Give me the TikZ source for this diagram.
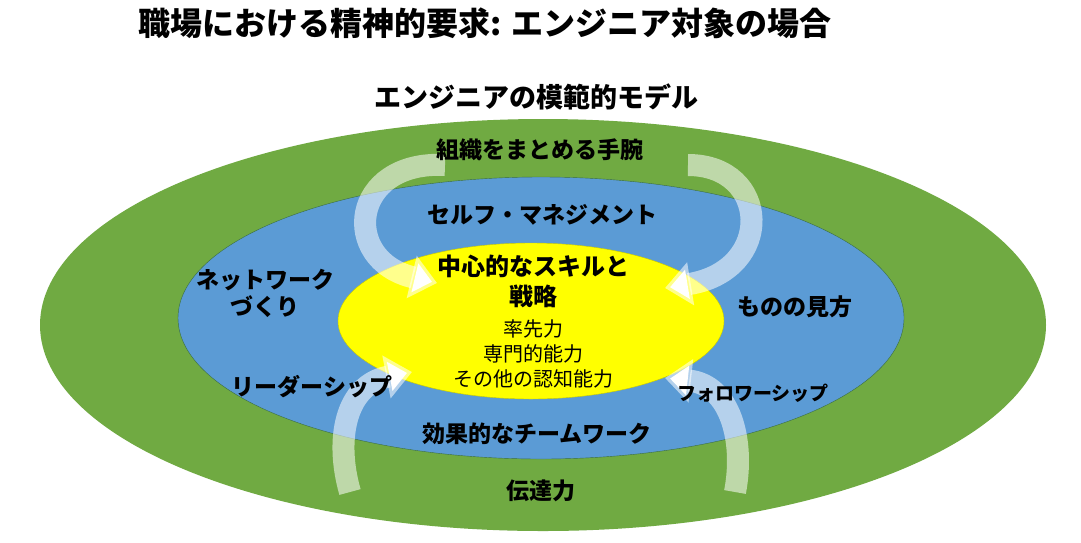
\documentclass[tikz,border=0pt]{standalone}
\usepackage{fontspec}
\setmainfont{Noto Sans CJK JP}
\usetikzlibrary{arrows.meta}
\begin{document}
\begin{tikzpicture}[x=1pt,y=-1pt,
 lbl/.style={font=\bfseries\fontsize{23}{27}\selectfont, align=center},
 flow/.style={draw=white, draw opacity=0.55, line width=22pt, -{Triangle[width=42pt,length=26pt]}}]
\useasboundingbox (0,0) rectangle (1081,542);
\fill[white] (0,0) rectangle (1081,542);
\fill[fill={rgb,255:red,112;green,170;blue,66}] (543,325) ellipse [x radius=503, y radius=206];
\draw[fill={rgb,255:red,91;green,155;blue,213}, draw={rgb,255:red,60;green,110;blue,60}] (541,318) ellipse [x radius=363, y radius=141];
\draw[fill={rgb,255:red,255;green,255;blue,0}, draw={rgb,255:red,200;green,200;blue,0}] (531,321) ellipse [x radius=193, y radius=78];
\node[font=\bfseries\fontsize{32}{36}\selectfont] (title) at (485,23) {職場における精神的要求: エンジニア対象の場合};
\node[font=\bfseries\fontsize{27}{30}\selectfont] (sub) at (536,97) {エンジニアの模範的モデル};
\coordinate (a1) at (445,165); \coordinate (a2) at (688,165);
\coordinate (b1) at (350,492); \coordinate (b2) at (735,492);
\coordinate (t1) at (437,283); \coordinate (t2) at (665,288);
\coordinate (t3) at (412,372); \coordinate (t4) at (665,378);
\draw[flow] (a1) .. controls (350,160) and (340,260) .. (t1);
\draw[flow] (a2) .. controls (770,165) and (775,270) .. (t2);
\draw[flow] (b1) .. controls (335,440) and (345,385) .. (t3);
\draw[flow] (b2) .. controls (745,440) and (730,385) .. (t4);
\node[lbl] (n1) at (540,150) {組織をまとめる手腕};
\node[lbl] (n2) at (542,215) {セルフ・マネジメント};
\node[lbl] (n3) at (265,293) {ネットワーク\\づくり};
\node[lbl] (n4) at (795,307) {ものの見方};
\node[lbl] (n5) at (312,387) {リーダーシップ};
\node[lbl, font=\bfseries\fontsize{19}{22}\selectfont] (n6) at (753,393) {フォロワーシップ};
\node[lbl] (n7) at (537,434) {効果的なチームワーク};
\node[lbl] (n8) at (541,491) {伝達力};
\node[lbl, font=\bfseries\fontsize{24}{30}\selectfont] (c1) at (533,281) {中心的なスキルと\\戦略};
\node[align=center, font=\fontsize{20}{25}\selectfont] (c2) at (533,354) {率先力\\専門的能力\\その他の認知能力};
\end{tikzpicture}
\end{document}
